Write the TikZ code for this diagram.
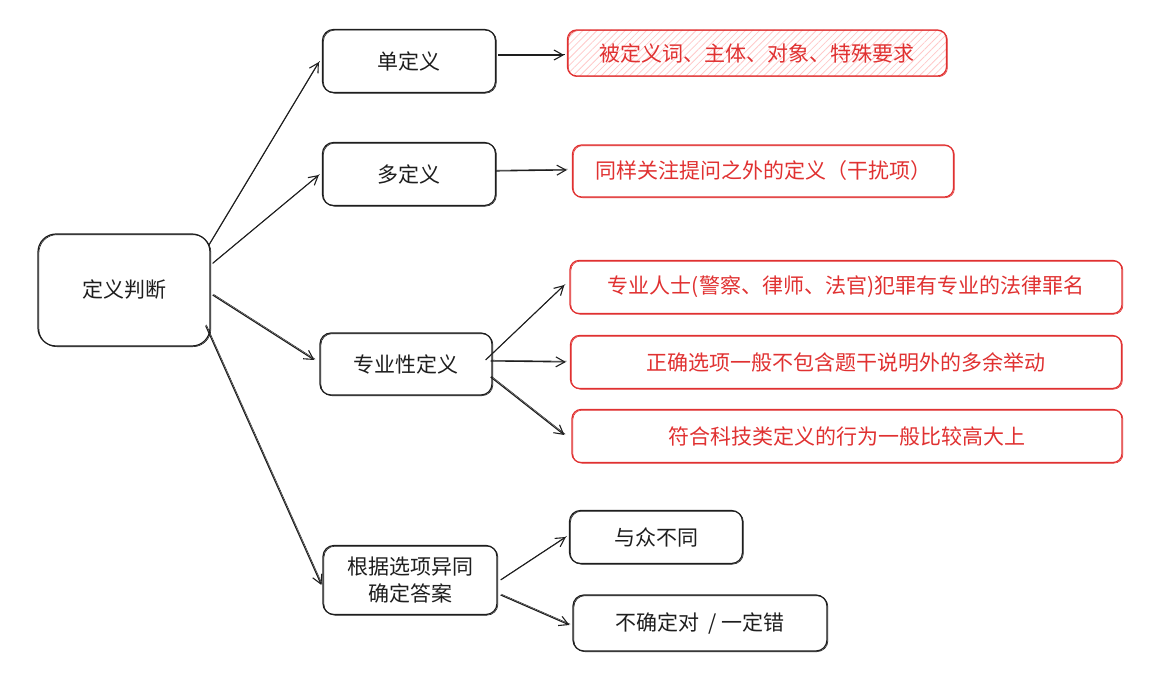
\documentclass[tikz,border=0pt]{standalone}
\usepackage{fontspec}
\setmainfont{Noto Sans CJK SC}
\usetikzlibrary{arrows.meta,patterns.meta}
\definecolor{ink}{HTML}{1E1E1E}
\definecolor{xred}{HTML}{E03131}
\definecolor{hatchred}{HTML}{FFC9C9}
\tikzset{
  txt/.style={font=\fontsize{21pt}{27pt}\selectfont},
  box/.style={draw=ink, line width=1.2pt, rounded corners=11pt, fill=white, txt,
    text=ink, align=center, inner sep=0pt,
    postaction={draw=ink, line width=0.6pt, transform canvas={shift={(0.9pt,-0.7pt)}}}},
  redbox/.style={draw=xred, line width=1.2pt, rounded corners=9pt, txt,
    text=xred, align=center, inner sep=0pt,
    postaction={draw=xred, line width=0.6pt, transform canvas={shift={(0.9pt,-0.7pt)}}}},
  conn/.style={draw=ink, line width=1.1pt, -{Straight Barb[length=9pt,width=10pt,line width=1.1pt]},
    postaction={draw=ink, line width=0.5pt, -, transform canvas={shift={(0.8pt,0.8pt)}}}},
}
\begin{document}
\begin{tikzpicture}[x=1pt,y=-1pt]
\useasboundingbox (0,0) rectangle (1154,677);
% main nodes
\node[box, rounded corners=18pt, minimum width=172pt, minimum height=112pt] (root) at (124,290) {定义判断};
\node[box, minimum width=173pt, minimum height=63pt] (dan) at (409,61) {单定义};
\node[box, minimum width=173pt, minimum height=63pt] (duo) at (409,174) {多定义};
\node[box, minimum width=172pt, minimum height=62pt] (zy) at (406,364) {专业性定义};
\node[box, minimum width=174pt, minimum height=69pt] (gj) at (410,580) {根据选项异同\\确定答案};
% leaves
\node[redbox, minimum width=379pt, minimum height=46pt,
  pattern={Lines[angle=45,distance=5pt,line width=0.8pt]}, pattern color=hatchred] (r1) at (757,53) {};
\node[txt, text=xred] (r1t) at (r1.center) {被定义词、主体、对象、特殊要求};
\node[redbox, minimum width=381pt, minimum height=52pt] (r2) at (763,171) {同样关注提问之外的定义（干扰项）};
\node[redbox, minimum width=552pt, minimum height=53pt] (r3) at (846,287) {专业人士(警察、律师、法官)犯罪有专业的法律罪名};
\node[redbox, minimum width=551pt, minimum height=53pt] (r4) at (846,362) {正确选项一般不包含题干说明外的多余举动};
\node[redbox, minimum width=550pt, minimum height=53pt] (r5) at (847,436) {符合科技类定义的行为一般比较高大上};
\node[box, minimum width=173pt, minimum height=53pt] (yz) at (656,537) {与众不同};
\node[box, minimum width=254pt, minimum height=56pt] (bq) at (700,623) {不确定对\, / 一定错};
% connectors
\draw[conn] ([shift={(-2,12)}]root.north east) -- ([shift={(-3,1)}]dan.west);
\draw[conn] ([shift={(2,30)}]root.north east) -- ([shift={(-3,1)}]duo.west);
\draw[conn] ([shift={(2,5)}]root.east) -- ([shift={(-5,-4)}]zy.west);
\draw[conn] ([shift={(-5,-21)}]root.south east) -- ([shift={(-1,5)}]gj.west);
\draw[conn] ([shift={(2,-6)}]dan.east) -- ([shift={(-3,2)}]r1.west);
\draw[conn] ([shift={(0,-3)}]duo.east) -- ([shift={(-5,-1)}]r2.west);
\draw[conn] ([shift={(-7,-4)}]zy.east) -- ([shift={(-5,-2)}]r3.west);
\draw[conn] ([shift={(-2,-3)}]zy.east) -- ([shift={(-4,0)}]r4.west);
\draw[conn] ([shift={(-2,13)}]zy.east) -- ([shift={(-7,-1)}]r5.west);
\draw[conn] ([shift={(3,0)}]gj.east) -- ([shift={(-3,0)}]yz.west);
\draw[conn] ([shift={(3,15)}]gj.east) -- ([shift={(-3,2)}]bq.west);
\end{tikzpicture}
\end{document}
